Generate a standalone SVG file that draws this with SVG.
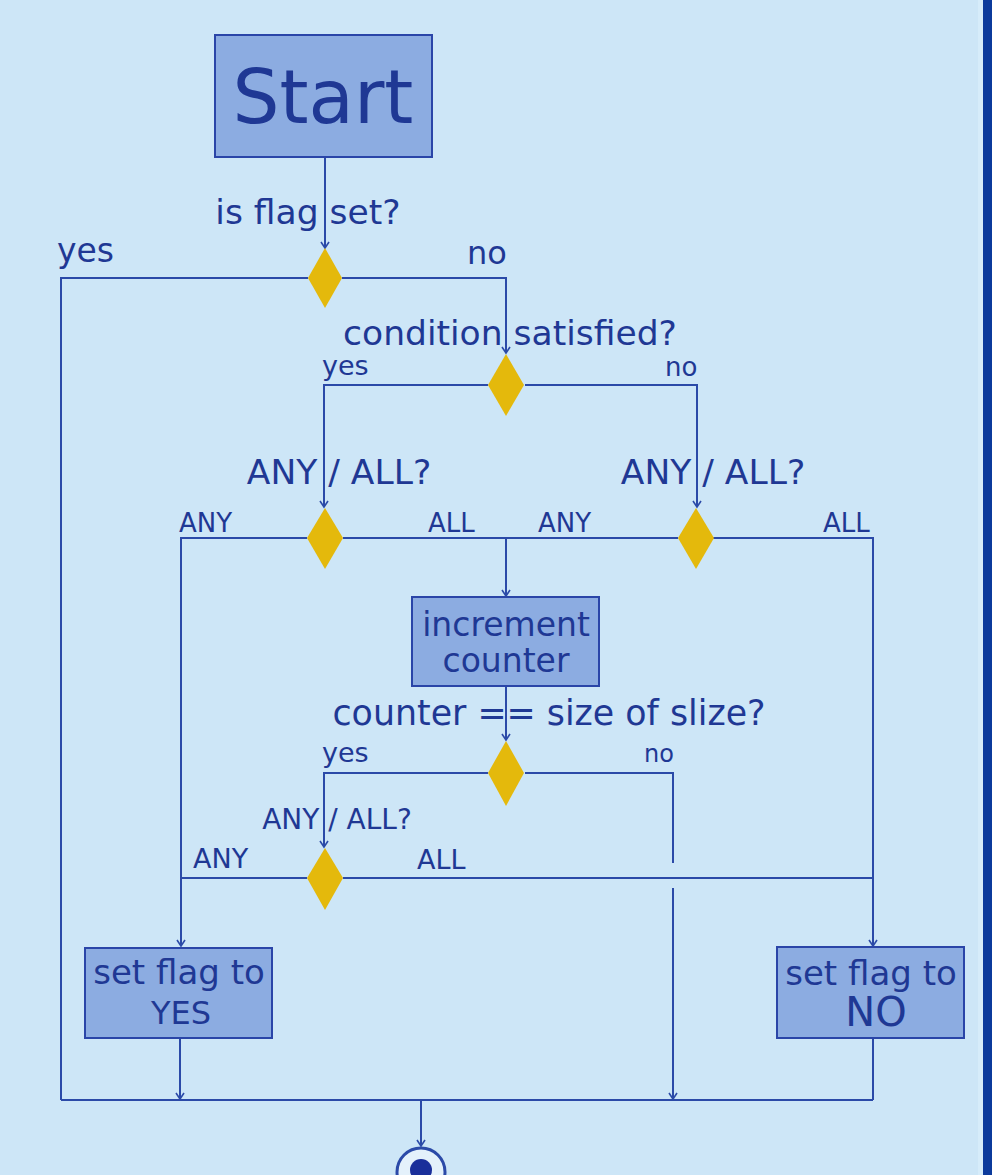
<svg xmlns="http://www.w3.org/2000/svg" width="992" height="1175" viewBox="0 0 992 1175">
<defs>
<marker id="arr" markerUnits="userSpaceOnUse" markerWidth="14" markerHeight="14" refX="0" refY="0" viewBox="-8 -7 10 14" orient="auto" overflow="visible">
<path d="M-6,-4 L0,0 L-6,4" fill="none" stroke="#2b4aa8" stroke-width="1.6"/>
</marker>
<style>
.bg{fill:#cde6f7}
.box{fill:#8cace1;stroke:#2a45a8;stroke-width:2}
.dia{fill:#e4b90c}
.c{fill:none;stroke:#2b4aa8;stroke-width:2}
.t{font-family:"DejaVu Sans","Liberation Sans",sans-serif;fill:#1f3894}
.m{text-anchor:middle}
</style>
</defs>
<rect class="bg" x="0" y="0" width="992" height="1175"/>
<rect x="978" y="0" width="5" height="1175" fill="#d6ecfa"/>
<rect x="983" y="0" width="9" height="1175" fill="#0b3a9c"/>

<g id="connectors">
<path class="c" d="M325,158 V248" marker-end="url(#arr)"/>
<path class="c" d="M308,278 H61 V1100"/>
<path class="c" d="M342,278 H506 V353" marker-end="url(#arr)"/>
<path class="c" d="M488,385 H324 V507" marker-end="url(#arr)"/>
<path class="c" d="M525,385 H697 V507" marker-end="url(#arr)"/>
<path class="c" d="M307,538 H181 V946" marker-end="url(#arr)"/>
<path class="c" d="M343,538 H506 V596" marker-end="url(#arr)"/>
<path class="c" d="M678,538 H506"/>
<path class="c" d="M713,538 H873 V946" marker-end="url(#arr)"/>
<path class="c" d="M506,686 V740" marker-end="url(#arr)"/>
<path class="c" d="M488,773 H324 V847" marker-end="url(#arr)"/>
<path class="c" d="M525,773 H673 V863"/>
<path class="c" d="M673,888 V1099" marker-end="url(#arr)"/>
<path class="c" d="M307,878 H181"/>
<path class="c" d="M343,878 H873"/>
<path class="c" d="M180,1038 V1099" marker-end="url(#arr)"/>
<path class="c" d="M873,1038 V1100"/>
<path class="c" d="M61,1100 H873"/>
<path class="c" d="M421,1100 V1146" marker-end="url(#arr)"/>
</g>

<g id="start">
<rect class="box" x="215" y="35" width="217" height="122"/>
<text class="t m" x="323" y="123" font-size="74">Start</text>
</g>

<g id="labels">
<text class="t m" x="308" y="224" font-size="34.5">is flag set?</text>
<text class="t" x="57" y="262" font-size="33">yes</text>
<text class="t" x="467" y="264" font-size="32">no</text>
<text class="t m" x="510" y="345" font-size="34.5">condition satisfied?</text>
<text class="t" x="322" y="375" font-size="27">yes</text>
<text class="t" x="665" y="376" font-size="26">no</text>
<text class="t m" x="339" y="484" font-size="34.5">ANY / ALL?</text>
<text class="t m" x="713" y="484" font-size="34.5">ANY / ALL?</text>
<text class="t" x="179" y="532" font-size="26">ANY</text>
<text class="t" x="428" y="532" font-size="26">ALL</text>
<text class="t" x="538" y="532" font-size="26">ANY</text>
<text class="t" x="823" y="532" font-size="26">ALL</text>
<text class="t m" x="549" y="725" font-size="34.8">counter == size of slize?</text>
<text class="t" x="322" y="762" font-size="27">yes</text>
<text class="t" x="644" y="762" font-size="24">no</text>
<text class="t m" x="337" y="829" font-size="28">ANY / ALL?</text>
<text class="t" x="193" y="868" font-size="27">ANY</text>
<text class="t" x="417" y="869" font-size="27">ALL</text>
</g>

<g id="d1"><path class="dia" d="M325,248 L342,278 L325,308 L308,278 Z"/></g>
<g id="d2"><path class="dia" d="M506,354 L524,385 L506,416 L488,385 Z"/></g>
<g id="d3"><path class="dia" d="M325,508 L343,538 L325,569 L307,538 Z"/></g>
<g id="d4"><path class="dia" d="M696,508 L714,538 L696,569 L678,538 Z"/></g>
<g id="d5"><path class="dia" d="M506,741 L524,773 L506,806 L488,773 Z"/></g>
<g id="d6"><path class="dia" d="M325,848 L343,878 L325,910 L307,878 Z"/></g>

<g id="increment">
<rect class="box" x="412" y="597" width="187" height="89"/>
<text class="t m" x="506" y="636" font-size="33">increment</text>
<text class="t m" x="506" y="672" font-size="33">counter</text>
</g>

<g id="setyes">
<rect class="box" x="85" y="948" width="187" height="90"/>
<text class="t m" x="179" y="984" font-size="34">set flag to</text>
<text class="t m" x="181" y="1024" font-size="32">YES</text>
</g>

<g id="setno">
<rect class="box" x="777" y="947" width="187" height="91"/>
<text class="t m" x="871" y="985" font-size="34">set flag to</text>
<text class="t m" x="876" y="1026" font-size="40">NO</text>
</g>

<g id="end">
<circle cx="421" cy="1172" r="24" fill="#e4f1fb" stroke="#2b4aa8" stroke-width="3"/>
<circle cx="421" cy="1170" r="11" fill="#1a2f9a"/>
</g>
</svg>
